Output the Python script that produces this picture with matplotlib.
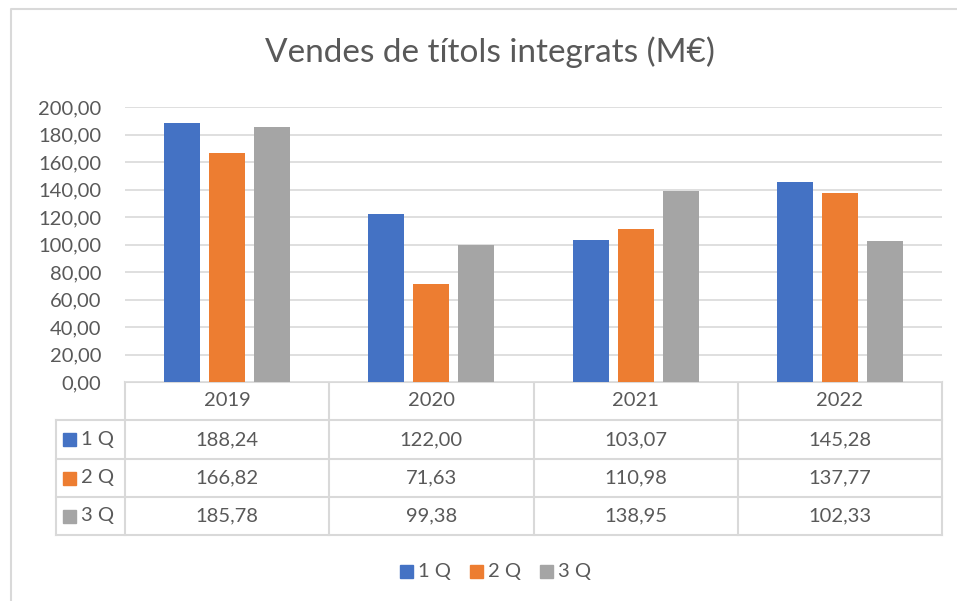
import numpy as np
import matplotlib.pyplot as plt
from matplotlib.patches import Rectangle

# data
years = ['2019', '2020', '2021', '2022']
series = ['1 Q', '2 Q', '3 Q']
q1 = [188.24, 122.00, 103.07, 145.28]
q2 = [166.82, 71.63, 110.98, 137.77]
q3 = [185.78, 99.38, 138.95, 102.33]
colors = ['#4472C4', '#ED7D31', '#A5A5A5']
yticks = np.arange(0, 201, 20)

W, H = 957, 601
txt = '#595959'
grid = '#d9d9d9'
fs = 14.5
plt.rcParams['font.family'] = ['Lato', 'DejaVu Sans']

fig = plt.figure(figsize=(W / 100, H / 100), dpi=100)

# overlay in pixel coords (y down) for border, table and legend
ov = fig.add_axes([0, 0, 1, 1])
ov.set_xlim(0, W)
ov.set_ylim(H, 0)
ov.axis('off')

# bar axes
x0, x1, ytop, ybot = 125, 942, 107, 382
ax = fig.add_axes([x0 / W, (H - ybot) / H, (x1 - x0) / W, (ybot - ytop) / H])
x = np.arange(len(years))
bw = 0.176
off = 0.22
for i, vals in enumerate([q1, q2, q3]):
    ax.bar(x + (i - 1) * off, vals, width=bw, color=colors[i], zorder=3)
ax.set_xlim(-0.5, len(years) - 0.5)
ax.set_ylim(0, 200)
ax.set_yticks(yticks)
ax.set_yticklabels([f'{v:.2f}'.replace('.', ',') for v in yticks], color=txt, fontsize=fs)
ax.tick_params(axis='y', length=0, pad=17)
ax.set_xticks([])
ax.grid(axis='y', color=grid, lw=1.2, zorder=0)
for s in ax.spines.values():
    s.set_visible(False)

# chart border
ov.plot([11, 11, W], [H, 9, 9], color=grid, lw=1.5)

# data table
cols = np.linspace(x0, x1, len(years) + 1)
rows = [382, 420, 459, 497, 535]
lx = 56
ov.plot([x0, x1], [rows[0], rows[0]], color=grid, lw=1.5)
for r in rows[1:]:
    ov.plot([lx, x1], [r, r], color=grid, lw=1.5)
for c in cols:
    ov.plot([c, c], [rows[0], rows[-1]], color=grid, lw=1.5)
ov.plot([lx, lx], [rows[1], rows[-1]], color=grid, lw=1.5)

for j, yr in enumerate(years):
    cx = (cols[j] + cols[j + 1]) / 2
    ov.text(cx, (rows[0] + rows[1]) / 2, yr, ha='center', va='center', color=txt, fontsize=fs)
for i, vals in enumerate([q1, q2, q3]):
    cy = (rows[i + 1] + rows[i + 2]) / 2
    ov.add_patch(Rectangle((63, cy - 6.5), 13, 13, color=colors[i]))
    ov.text(81, cy, series[i], ha='left', va='center', color=txt, fontsize=fs)
    for j, v in enumerate(vals):
        cx = (cols[j] + cols[j + 1]) / 2
        ov.text(cx, cy, f'{v:.2f}'.replace('.', ','), ha='center', va='center', color=txt, fontsize=fs)

# legend
for i, s in enumerate(series):
    lx0 = 400 + i * 70
    ov.add_patch(Rectangle((lx0, 565), 13, 13, color=colors[i]))
    ov.text(lx0 + 18, 571.5, s, ha='left', va='center', color=txt, fontsize=fs)

# title
ov.text(490, 52, 'Vendes de títols integrats (M€)', ha='center', va='center',
        color=txt, fontsize=24)

fig.savefig('out.png', dpi=100)
